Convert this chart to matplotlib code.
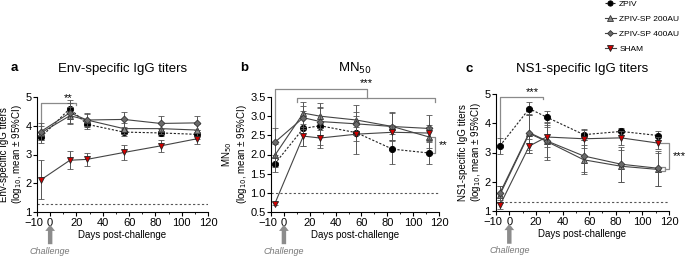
import matplotlib
matplotlib.use("Agg")
import matplotlib.pyplot as plt
import matplotlib.transforms as mtransforms
from matplotlib.lines import Line2D
import numpy as np

plt.rcParams['font.family'] = ['Liberation Sans', 'DejaVu Sans']

days = [-7, 15, 28, 56, 84, 112]
groups = ["ZPIV", "ZPIV-SP 200AU", "ZPIV-SP 400AU", "SHAM"]

# Panel a: Env-specific IgG titers
env_zpiv = [3.60, 4.60, 4.05, 3.78, 3.75, 3.70]
env_sp200 = [3.75, 4.35, 4.20, 3.90, 3.90, 3.85]
env_sp400 = [3.80, 4.45, 4.20, 4.22, 4.08, 4.10]
env_sham = [2.12, 2.80, 2.83, 3.07, 3.30, 3.55]
env_zpiv_err = [0.20, 0.30, 0.15, 0.12, 0.12, 0.15]
env_sp200_err = [0.25, 0.30, 0.20, 0.20, 0.20, 0.20]
env_sp400_err = [0.30, 0.35, 0.25, 0.25, 0.25, 0.25]
env_sham_err = [0.68, 0.32, 0.22, 0.25, 0.22, 0.20]

# Panel b: MN50
mn_zpiv = [1.76, 2.68, 2.75, 2.57, 2.14, 2.04]
mn_sp200 = [1.98, 3.08, 3.00, 2.90, 2.73, 2.46]
mn_sp400 = [2.32, 2.96, 2.86, 2.80, 2.73, 2.68]
mn_sham = [0.72, 2.48, 2.43, 2.53, 2.58, 2.56]
mn_zpiv_err = [0.22, 0.45, 0.50, 0.55, 0.40, 0.30]
mn_sp200_err = [0.30, 0.28, 0.35, 0.40, 0.35, 0.30]
mn_sp400_err = [0.38, 0.30, 0.35, 0.20, 0.38, 0.35]
mn_sham_err = [0.05, 0.25, 0.25, 0.18, 0.20, 0.15]

# Panel c: NS1-specific IgG titers
ns_zpiv = [3.23, 4.50, 4.21, 3.61, 3.72, 3.58]
ns_sp200 = [1.56, 3.65, 3.38, 2.75, 2.53, 2.42]
ns_sp400 = [1.62, 3.68, 3.40, 2.88, 2.60, 2.46]
ns_sham = [1.20, 3.22, 3.53, 3.47, 3.50, 3.32]
ns_zpiv_err = [0.27, 0.22, 0.20, 0.18, 0.12, 0.15]
ns_sp200_err = [0.30, 0.65, 0.65, 0.50, 0.55, 0.55]
ns_sp400_err = [0.25, 0.60, 0.55, 0.55, 0.60, 0.60]
ns_sham_err = [0.12, 0.25, 0.35, 0.30, 0.25, 0.20]

styles = {
    "ZPIV": dict(marker='o', mfc='black', mec='black', ls=(0, (2, 1.5)), color='#222222', ms=4.5),
    "ZPIV-SP 200AU": dict(marker='^', mfc='#8a8a8a', mec='#333333', ls='-', color='#444444', ms=4.5),
    "ZPIV-SP 400AU": dict(marker='D', mfc='#6a6a6a', mec='#333333', ls='-', color='#444444', ms=3.5),
    "SHAM": dict(marker='v', mfc='#d00000', mec='#222222', ls='-', color='#444444', ms=4.5),
}

fig = plt.figure(figsize=(6.94, 2.56), dpi=100)
W, H = 694, 256

def make_ax(l, r, t, b):
    return fig.add_axes([l / W, 1 - b / H, (r - l) / W, (b - t) / H])

axa = make_ax(37, 208, 97, 212)
axb = make_ax(271, 439, 97, 212)
axc = make_ax(496, 669, 94, 211)

panels = [
    (axa, [env_zpiv, env_sp200, env_sp400, env_sham],
     [env_zpiv_err, env_sp200_err, env_sp400_err, env_sham_err],
     (1, 5), [1, 2, 3, 4, 5], ['1', '2', '3', '4', '5'], 1.28,
     "Env-specific IgG titers", "Env-specific IgG titers\n(log$_{10}$, mean ± 95%CI)", 'a'),
    (axb, [mn_zpiv, mn_sp200, mn_sp400, mn_sham],
     [mn_zpiv_err, mn_sp200_err, mn_sp400_err, mn_sham_err],
     (0.5, 3.5), [0.5, 1.0, 1.5, 2.0, 2.5, 3.0, 3.5],
     ['0.5', '1.0', '1.5', '2.0', '2.5', '3.0', '3.5'], 1.0,
     "MN$_{50}$", "MN$_{50}$\n(log$_{10}$, mean ± 95%CI)", 'b'),
    (axc, [ns_zpiv, ns_sp200, ns_sp400, ns_sham],
     [ns_zpiv_err, ns_sp200_err, ns_sp400_err, ns_sham_err],
     (1, 5), [1, 2, 3, 4, 5], ['1', '2', '3', '4', '5'], 1.3,
     "NS1-specific IgG titers", "NS1-specific IgG titers\n(log$_{10}$, mean ± 95%CI)", 'c'),
]

for ax, series, errs, ylim, yt, ytl, lod, title, ylabel, letter in panels:
    ax.axhline(lod, color='#555555', lw=0.8, ls=(0, (2, 2)), zorder=1)
    order = [2, 1, 0, 3]
    for i in order:
        g = groups[i]
        st = styles[g]
        ax.errorbar(days, series[i], yerr=errs[i], color=st['color'], ls=st['ls'], lw=0.8,
                    marker=st['marker'], mfc=st['mfc'], mec=st['mec'], ms=st['ms'], mew=0.6,
                    ecolor='#555555', elinewidth=0.7, capsize=2, capthick=0.7, zorder=3 + i)
    ax.set_xlim(-10, 120)
    ax.set_ylim(*ylim)
    ax.set_xticks([-10, 0, 20, 40, 60, 80, 100, 120])
    ax.set_xticks([10, 30, 50, 70, 90, 110], minor=True)
    ax.set_yticks(yt)
    ax.set_yticklabels(ytl)
    ax.tick_params(axis='both', which='major', labelsize=8, length=3, width=0.8, pad=1)
    ax.tick_params(axis='both', which='minor', length=1.5, width=0.6)
    for s in ['top', 'right']:
        ax.spines[s].set_visible(False)
    for s in ['left', 'bottom']:
        ax.spines[s].set_linewidth(0.8)
    ax.set_xlabel("Days post-challenge", fontsize=7, labelpad=1.5)
    ax.set_ylabel(ylabel, fontsize=7, labelpad=1, linespacing=1.05)
    ax.set_title(title, fontsize=9.5, pad=18 if letter != 'c' else 16)
    # nudge the "-10" label left so it does not touch "0"
    first = ax.get_xticklabels()[0]
    first.set_transform(first.get_transform() +
                        mtransforms.ScaledTranslation(-3 / 100, 0, fig.dpi_scale_trans))
    trans = mtransforms.blended_transform_factory(ax.transData, ax.transAxes)
    ax.annotate('', xy=(0, -0.11), xytext=(0, -0.28), xycoords=trans, textcoords=trans,
                arrowprops=dict(facecolor='#8c8c8c', edgecolor='none', width=3.2,
                                headwidth=7, headlength=4.5), annotation_clip=False)
    ax.text(0, -0.34, "Challenge", transform=trans, ha='center', va='center',
            fontsize=6.5, style='italic', color='#777777')

# Panel letters
fig.text(11 / W, 1 - 68 / H, 'a', fontsize=9.5, fontweight='bold', va='center')
fig.text(240 / W, 1 - 68 / H, 'b', fontsize=9.5, fontweight='bold', va='center')
fig.text(465 / W, 1 - 69 / H, 'c', fontsize=9.5, fontweight='bold', va='center')

bc = '#8a8a8a'
blw = 0.9
# Panel a bracket
axa.plot([-7, -7, 20, 20], [3.9, 4.79, 4.79, 4.72], color=bc, lw=blw, clip_on=False, zorder=2)
axa.text(14, 4.8, "**", ha='center', va='bottom', fontsize=8)

# Panel b brackets
axb.plot([-7, -7, 64, 64], [2.65, 3.72, 3.72, 3.48], color=bc, lw=blw, clip_on=False, zorder=2)
axb.plot([10, 10, 117, 117], [3.36, 3.48, 3.48, 3.36], color=bc, lw=blw, clip_on=False, zorder=2)
axb.text(64, 3.72, "***", ha='center', va='bottom', fontsize=8)
axb.plot([114, 117, 117, 114], [2.45, 2.45, 2.04, 2.04], color=bc, lw=blw, clip_on=False, zorder=2)
axb.text(120, 2.25, "**", ha='left', va='center', fontsize=8)

# Panel c brackets
axc.plot([-7, -7, 25, 25], [3.45, 4.9, 4.9, 4.83], color=bc, lw=blw, clip_on=False, zorder=2)
axc.text(17, 4.9, "***", ha='center', va='bottom', fontsize=8)
axc.plot([112, 120, 120, 117], [3.33, 3.33, 2.44, 2.44], color=bc, lw=blw, clip_on=False, zorder=2)
axc.plot([114, 117, 117, 114], [2.52, 2.52, 2.36, 2.36], color=bc, lw=blw, clip_on=False, zorder=2)
axc.text(123, 2.88, "***", ha='left', va='center', fontsize=8)

# Legend
handles = []
for g in groups:
    st = styles[g]
    handles.append(Line2D([0], [0], color=st['color'], ls=st['ls'], lw=0.8, marker=st['marker'],
                          mfc=st['mfc'], mec=st['mec'], ms=st['ms'] * 0.85, mew=0.6))
fig.legend(handles, groups, loc='upper left', bbox_to_anchor=(605 / W, 1.0), frameon=False,
           fontsize=6, handlelength=1.3, handletextpad=0.4, labelspacing=0.85, borderaxespad=0,
           borderpad=0)

fig.savefig("out.png", dpi=100)
